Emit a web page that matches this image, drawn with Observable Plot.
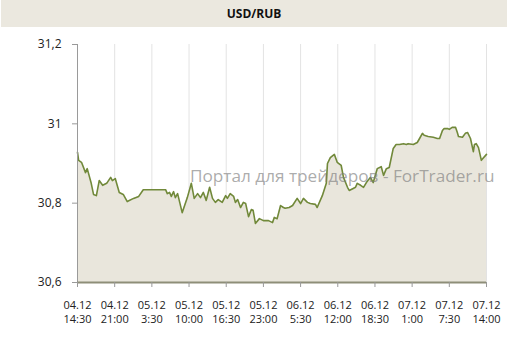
<!DOCTYPE html>
<html><head><meta charset="utf-8">
<script src="https://cdn.jsdelivr.net/npm/d3@7"></script>
<script src="https://cdn.jsdelivr.net/npm/@observablehq/plot@0.6"></script>
<style>
body{margin:0;background:#fff;font-family:"Open Sans",sans-serif;}
#wrap{position:relative;width:507px;height:337px;overflow:hidden;}
#head{height:27px;background:#ebe8df;margin-left:1px;display:flex;align-items:center;justify-content:center;font-weight:bold;font-size:12px;color:#111;}
#wm{position:absolute;left:190px;top:164px;font-size:17.2px;color:rgba(125,125,125,0.65);white-space:nowrap;pointer-events:none;}
</style></head>
<body><div id="wrap"><div id="head">USD/RUB</div><div id="chart"></div><div id="wm">Портал для трейдеров - ForTrader.ru</div></div>
<script>
const title = "USD/RUB";
// hours since 04.12 14:30
const hours = [0,0.2,0.7,1.4,1.7,2.4,2.8,3.3,3.8,4.4,5.1,5.8,6.1,6.6,7.3,8.0,8.7,9.8,10.7,11.5,15.4,15.7,16.1,16.4,16.8,17.1,17.5,18.3,19.2,19.9,20.4,21.0,21.5,22.0,22.5,23.1,23.6,24.1,24.6,25.3,25.9,26.2,26.7,27.3,27.6,28.0,28.5,29.0,29.4,29.9,30.4,30.7,31.1,31.8,32.5,33.4,34.1,34.4,34.9,35.5,36.0,36.3,37.0,37.6,38.4,39.0,39.5,40.2,40.7,41.6,41.9,42.8,43.5,43.7,44.2,44.9,45.4,46.1,46.5,47.2,47.5,48.2,48.6,48.9,49.5,50.0,50.5,51.2,51.7,52.4,53.1,53.5,54.0,54.5,55.2,55.7,56.3,57.0,57.5,57.8,58.7,59.4,59.8,60.3,60.6,61.3,62.2,62.9,63.3,63.8,64.1,64.7,65.0,65.5,66.1,66.4,66.6,67.3,67.8,68.2,68.7,69.2,69.4,69.7,70.1,70.6,70.9,71.5];
const rates = [30.928,30.908,30.903,30.877,30.887,30.850,30.822,30.819,30.857,30.845,30.850,30.865,30.857,30.862,30.827,30.822,30.804,30.812,30.817,30.834,30.834,30.824,30.827,30.817,30.829,30.814,30.824,30.776,30.814,30.850,30.812,30.824,30.814,30.827,30.807,30.840,30.812,30.802,30.809,30.802,30.819,30.812,30.824,30.817,30.802,30.809,30.789,30.802,30.799,30.766,30.784,30.782,30.749,30.761,30.756,30.756,30.751,30.764,30.761,30.794,30.789,30.787,30.789,30.794,30.812,30.799,30.812,30.802,30.799,30.797,30.789,30.819,30.850,30.900,30.915,30.923,30.903,30.895,30.865,30.840,30.832,30.837,30.840,30.850,30.845,30.840,30.852,30.865,30.852,30.887,30.892,30.870,30.887,30.890,30.938,30.948,30.948,30.950,30.948,30.950,30.948,30.953,30.963,30.976,30.971,30.968,30.966,30.963,30.963,30.983,30.988,30.988,30.986,30.991,30.991,30.978,30.968,30.966,30.976,30.978,30.963,30.930,30.948,30.950,30.940,30.908,30.913,30.923];
const xTicks = [0,6.5,13,19.5,26,32.5,39,45.5,52,58.5,65,71.5];
const xTickLabels = ["04.12\n14:30","04.12\n21:00","05.12\n3:30","05.12\n10:00","05.12\n16:30","05.12\n23:00","06.12\n5:30","06.12\n12:00","06.12\n18:30","07.12\n1:00","07.12\n7:30","07.12\n14:00"];
const yTicks = [30.6,30.8,31,31.2];
const yTickLabels = ["30,6","30,8","31","31,2"];

const data = hours.map((h,i)=>({h, v: rates[i]}));
const base = yTicks[0];

const chart = Plot.plot({
  width: 507, height: 310,
  marginTop: 17, marginBottom: 55, marginLeft: 77, marginRight: 21,
  style: {fontFamily: '"Open Sans", sans-serif', color: "#333", background: "transparent"},
  x: {domain: [0, 71.5]},
  y: {domain: [30.6, 31.2]},
  marks: [
    Plot.ruleX(xTicks.slice(1), {stroke: "#e3e3e3", strokeWidth: 1}),
    Plot.areaY(data, {x: "h", y1: d => base, y2: "v", fill: "#e9e6dc"}),
    Plot.lineY(data, {x: "h", y: "v", stroke: "#71893a", strokeWidth: 1.6}),
    Plot.ruleX([0], {stroke: "#9a9a9a"}),
    Plot.axisY({ticks: yTicks, tickFormat: d => yTickLabels[yTicks.indexOf(d)], tickSize: 5, tickPadding: 11, fontSize: 12, stroke: "#999", fill: "#222", label: null}),
    Plot.ruleY([base], {stroke: "#8e8e78", strokeWidth: 2}),
    Plot.axisX({ticks: xTicks, tickFormat: d => xTickLabels[xTicks.indexOf(d)], tickSize: 5, tickPadding: 11, fontSize: 11, lineHeight: 1.3, stroke: "#999", fill: "#222", label: null})
  ]
});
document.getElementById("chart").appendChild(chart);
</script>
</body></html>
